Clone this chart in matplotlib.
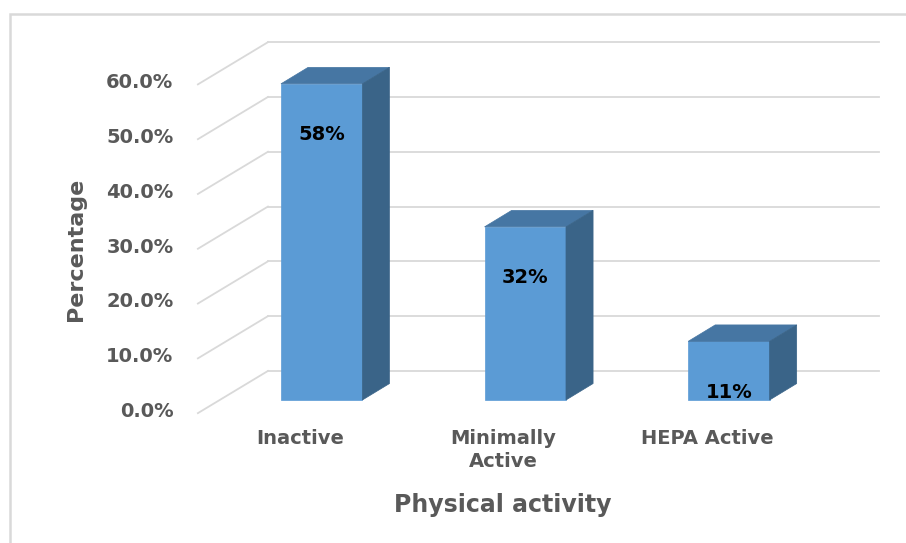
import matplotlib
matplotlib.use('Agg')
import matplotlib.pyplot as plt
from matplotlib.patches import Polygon, Rectangle

plt.rcParams['font.family'] = ['DejaVu Sans']

# data
categories = ['Inactive', 'Minimally\nActive', 'HEPA Active']
values = [57.7, 31.6, 10.7]
y_ticks = [0, 10, 20, 30, 40, 50, 60]

# colours
front_color = '#5b9bd5'
top_color = '#4676a3'
side_color = '#3a6488'
grid_color = '#d9d9d9'
text_color = '#595959'

# pseudo 3d offsets (category units, percent units)
bar_w = 0.4
depth_dx, depth_dy = 0.133, 3.0      # bar depth
back_dx, back_dy = 0.236, 5.3        # back wall relative to bar plane
front_dx, front_dy = -0.108, -2.4    # front floor edge relative to bar plane
floor_left, floor_right = -0.5, len(categories) - 0.5

fig = plt.figure(figsize=(9.06, 5.43), dpi=100)
ax = fig.add_axes([0, 0, 1, 1])
ax.set_xlim(-1.58, 2.87)
ax.set_ylim(-26.1, 73.0)
ax.axis('off')

# gridlines: back wall + diagonal on the floor side
for t in y_ticks:
    ax.plot([floor_left + back_dx, floor_right + back_dx], [t + back_dy, t + back_dy],
            color=grid_color, lw=1.3, zorder=1)
    ax.plot([floor_left + front_dx, floor_left + back_dx], [t + front_dy, t + back_dy],
            color=grid_color, lw=1.3, zorder=1)
    ax.text(floor_left + front_dx - 0.12, t + front_dy + 0.3, f'{t:.1f}%',
            ha='right', va='center', fontsize=14, fontweight='bold', color=text_color)

# bars
xs = list(range(len(categories)))
ax.bar(xs, values, width=bar_w, color=front_color, edgecolor=front_color, lw=0.5, zorder=3)
for x, v in zip(xs, values):
    l, r = x - bar_w / 2, x + bar_w / 2
    top = Polygon([(l, v), (r, v), (r + depth_dx, v + depth_dy), (l + depth_dx, v + depth_dy)],
                  closed=True, facecolor=top_color, edgecolor=top_color, lw=0.5, zorder=3)
    side = Polygon([(r, 0), (r + depth_dx, depth_dy), (r + depth_dx, v + depth_dy), (r, v)],
                   closed=True, facecolor=side_color, edgecolor=side_color, lw=0.5, zorder=3)
    ax.add_patch(top)
    ax.add_patch(side)
    # data label
    ax.text(x, v - 9.3, f'{v:.0f}%', ha='center', va='center', fontsize=14,
            fontweight='bold', color='black', zorder=4)

# category labels along the front edge
for x, c in zip(xs, categories):
    ax.text(x + front_dx, -5.3, c, ha='center', va='top', fontsize=14,
            fontweight='bold', color=text_color, linespacing=1.25)

# axis titles
fig.text(0.555, 0.070, 'Physical activity', ha='center', va='center',
         fontsize=17, fontweight='bold', color=text_color)
fig.text(0.084, 0.541, 'Percentage', ha='center', va='center', rotation=90,
         fontsize=16, fontweight='bold', color=text_color)

# chart area border (only left/top visible in the crop)
fig.patches.append(Rectangle((0.011, -0.05), 1.05, 1.024, transform=fig.transFigure,
                             fill=False, edgecolor=grid_color, lw=1.8))

fig.savefig('out.png', dpi=100)
